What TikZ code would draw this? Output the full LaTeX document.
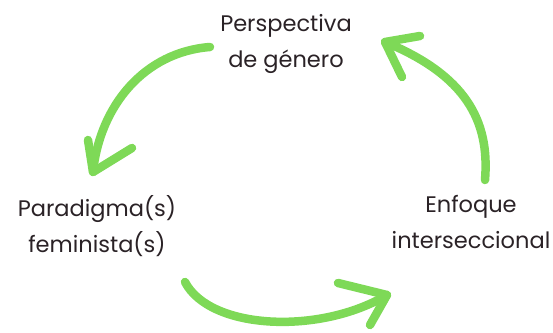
\documentclass[tikz,border=0pt]{standalone}
\usepackage{fontspec}
\setmainfont{Poppins}
\usetikzlibrary{positioning}
\definecolor{leaf}{HTML}{7ED957}
\definecolor{ink}{HTML}{2A2226}
\tikzset{
  label/.style={align=center, text=ink, inner sep=0pt, font=\fontsize{22.5}{36}\selectfont},
  swoosh/.style={draw=leaf, line width=8.5pt, line cap=round, line join=round},
}

\begin{document}
\begin{tikzpicture}[x=1pt, y=-1pt, yshift=332pt]
		%%%%% START %%%%%
		\useasboundingbox (0, 0) rectangle (553, 332);
		
		\node[label, anchor=base] (genero) at (286, 68) {Perspectiva\\de género};
		\node[label, anchor=base] (paradigma) at (97, 252) {Paradigma(s)\\feminista(s)};
		\node[label, anchor=base] (enfoque) at (471, 248) {Enfoque\\interseccional};
		
		% top left
		\coordinate (a1) at (210, 47);
		\coordinate (a2) at (93, 172);
		\draw[swoosh] (a1) .. controls (145, 52) and (100, 105) .. (a2);
		\draw[swoosh] (88, 140) -- (a2) -- (132, 148);
		
		% bottom
		\coordinate (b1) at (185, 282);
		\coordinate (b2) at (387, 295);
		\draw[swoosh] (b1) .. controls (210, 330) and (320, 335) .. (b2);
		\draw[swoosh] (338, 283) -- (b2) -- (370, 325);
		
		% right
		\coordinate (c1) at (485, 180);
		\coordinate (c2) at (385, 42);
		\draw[swoosh] (c1) .. controls (490, 120) and (465, 75) .. (c2);
		\draw[swoosh] (420, 36) -- (c2) -- (402, 77);
		%%%%% END %%%%%
\end{tikzpicture}
\end{document}
